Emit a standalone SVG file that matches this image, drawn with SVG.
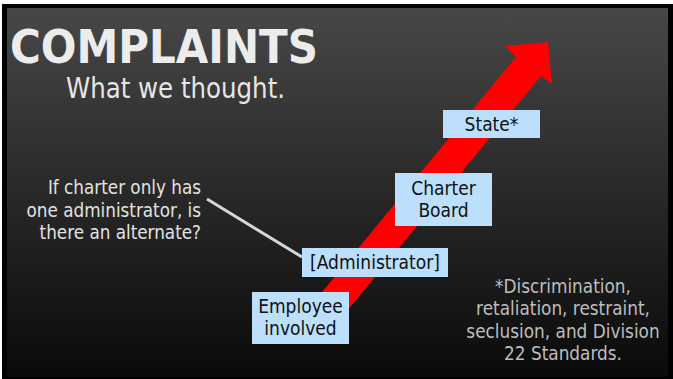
<svg xmlns="http://www.w3.org/2000/svg" width="673" height="379" viewBox="0 0 673 379">
  <defs>
    <linearGradient id="bg" x1="0" y1="0" x2="0" y2="1">
      <stop offset="0" stop-color="#474747"/>
      <stop offset="1" stop-color="#0a0a0a"/>
    </linearGradient>
    <style>
      text { font-family: 'DejaVu Sans Condensed', 'DejaVu Sans', sans-serif; }
      .box { fill: #bbdffd; }
      .lbl { font-size: 19px; fill: #111111; text-anchor: middle; }
      .note { font-size: 18.7px; fill: #e2e2e2; text-anchor: end; }
      .foot { font-size: 18.8px; fill: #bdbdbd; text-anchor: middle; }
    </style>
  </defs>
  <rect x="0" y="0" width="673" height="379" fill="#ffffff"/>
  <rect x="2" y="4" width="671" height="375" fill="#000000"/>
  <rect x="7" y="8" width="661" height="369" fill="url(#bg)"/>

  <text x="10" y="63" font-size="47" font-weight="bold" fill="#ececec" textLength="308" lengthAdjust="spacingAndGlyphs">COMPLAINTS</text>
  <text x="66" y="98" font-size="29" fill="#e6e6e6" textLength="219" lengthAdjust="spacingAndGlyphs">What we thought.</text>

  <g id="arrow">
    <polygon fill="#ff0000" points="548,42 505,46 516,57 299,320 323,340 541,76 552,84"/>
  </g>

  <g id="connectors">
    <line x1="207" y1="199" x2="302" y2="257" stroke="#d6d6d6" stroke-width="3"/>
  </g>

  <g id="note">
    <text class="note" x="201" y="194">If charter only has</text>
    <text class="note" x="201" y="217">one administrator, is</text>
    <text class="note" x="201" y="239">there an alternate?</text>
  </g>

  <g id="state">
    <rect class="box" x="443" y="110" width="97" height="28"/>
    <text class="lbl" x="491.5" y="131">State*</text>
  </g>
  <g id="charter-board">
    <rect class="box" x="395" y="173" width="97" height="53"/>
    <text class="lbl" x="443.5" y="195">Charter</text>
    <text class="lbl" x="443.5" y="217">Board</text>
  </g>
  <g id="administrator">
    <rect class="box" x="302" y="248" width="146" height="29"/>
    <text class="lbl" x="375" y="269">[Administrator]</text>
  </g>
  <g id="employee">
    <rect class="box" x="252" y="292" width="97" height="52"/>
    <text class="lbl" x="300.5" y="313">Employee</text>
    <text class="lbl" x="300.5" y="335">involved</text>
  </g>

  <g id="footnote">
    <text class="foot" x="563" y="293">*Discrimination,</text>
    <text class="foot" x="563" y="315">retaliation, restraint,</text>
    <text class="foot" x="563" y="338">seclusion, and Division</text>
    <text class="foot" x="563" y="360">22 Standards.</text>
  </g>
</svg>
